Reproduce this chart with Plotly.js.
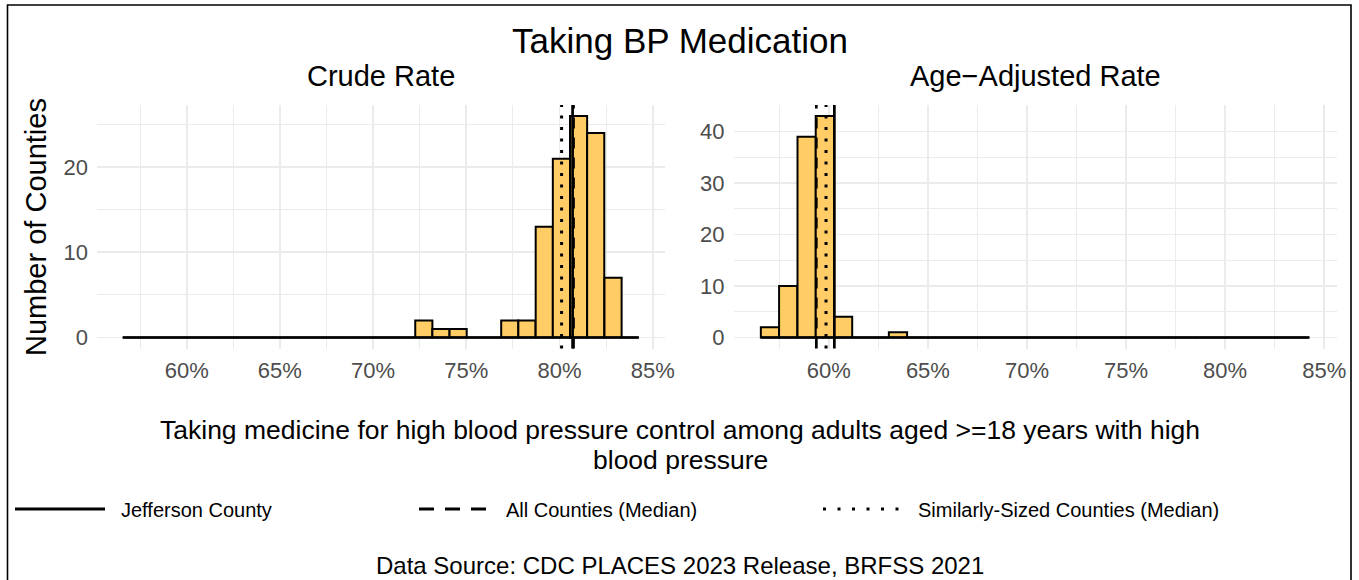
<!DOCTYPE html>
<html>
<head>
<meta charset="utf-8">
<script src="https://cdn.plot.ly/plotly-3.0.1.min.js"></script>
<style>html,body{margin:0;padding:0;background:#fff;}#chart{width:1359px;height:580px;}</style>
</head>
<body>
<div id="chart"></div>
<script>
// ---- data ----
const binCenters = [57.03, 57.95, 58.88, 59.80, 60.72, 61.65, 62.57, 63.49, 64.41, 65.34,
                    66.26, 67.18, 68.10, 69.03, 69.95, 70.87, 71.79, 72.72, 73.64, 74.56,
                    75.49, 76.41, 77.33, 78.25, 79.18, 80.10, 81.02, 81.94, 82.87, 83.79];
const crudeCounts = [0,0,0,0,0,0,0,0,0,0, 0,0,0,0,0,0,0,2,1,1, 0,0,2,2,13,21,26,24,7,0];
const ageAdjCounts = [2,10,39,43,4,0,0,1,0,0, 0,0,0,0,0,0,0,0,0,0, 0,0,0,0,0,0,0,0,0,0];
// reference lines: [Jefferson County, All Counties (Median), Similarly-Sized Counties (Median)]
const crudeRefs = [80.70, 80.75, 80.11];
const ageAdjRefs = [60.28, 59.37, 59.86];
const refLabels = ["Jefferson County", "All Counties (Median)", "Similarly-Sized Counties (Median)"];
const panelTitles = ["Crude Rate", "Age\u2212Adjusted Rate"];
const mainTitle = "Taking BP Medication";
const xTitleLines = ["Taking medicine for high blood pressure control among adults aged >=18 years with high",
                     "blood pressure"];
const yTitle = "Number of Counties";
const sourceText = "Data Source: CDC PLACES 2023 Release, BRFSS 2021";

// ---- layout helpers ----
const W = 1359, H = 580;
const px = v => v / W;
const py = v => 1 - v / H;
const FONT = "Liberation Sans, Arial, sans-serif";
const FILL = "#FFCC66";
const GRID = "#EBEBEB";
const half = (binCenters[1] - binCenters[0]) / 2;
const xLo = binCenters[0] - half, xHi = binCenters[binCenters.length - 1] + half;

function barTrace(counts, xa, ya) {
  return {type: "bar", x: binCenters, y: counts, xaxis: xa, yaxis: ya,
    marker: {color: FILL, line: {color: "black", width: 2}}, hoverinfo: "x+y"};
}
function baseTrace(xa, ya) {
  return {type: "scatter", mode: "lines", x: [xLo, xHi], y: [0, 0], xaxis: xa, yaxis: ya,
    line: {color: "black", width: 2.4}, hoverinfo: "skip"};
}
const traces = [
  barTrace(crudeCounts, "x", "y"), barTrace(ageAdjCounts, "x2", "y2"),
  baseTrace("x", "y"), baseTrace("x2", "y2")
];

const dashes = ["solid", "11px,9px", "3px,8.5px"];
const shapes = [];
function addRefs(refs, xr) {
  refs.forEach((v, i) => shapes.push({type: "line", xref: xr, yref: xr.replace("x", "y") + " domain",
    x0: v, x1: v, y0: 0, y1: 1, layer: "above",
    line: {color: "black", width: i === 2 ? 3 : 2.7, dash: dashes[i]}}));
}
addRefs(crudeRefs, "x");
addRefs(ageAdjRefs, "x2");

// frame
shapes.push({type: "rect", xref: "paper", yref: "paper", x0: px(7.5), x1: px(1351), y0: -0.05, y1: py(5),
  line: {color: "black", width: 1.6}, fillcolor: "rgba(0,0,0,0)", layer: "below"});

// legend keys (manual, to match wide keys)
const legKeys = [[15, 105], [419, 495], [823, 902]];
const legDash = ["solid", "15px,11px", "3px,11.5px"];
legKeys.forEach((k, i) => shapes.push({type: "line", xref: "paper", yref: "paper",
  x0: px(k[0]), x1: px(k[1]), y0: py(509), y1: py(509),
  line: {color: "black", width: 3, dash: legDash[i]}}));
const legTextX = [119, 504, 916];

const annotations = [
  {text: mainTitle, x: px(680), y: py(41), font: {size: 35, color: "black", family: FONT}},
  {text: panelTitles[0], x: px(380.75), y: py(76), font: {size: 29, color: "black", family: FONT}},
  {text: panelTitles[1], x: px(1035), y: py(76), font: {size: 29, color: "black", family: FONT}},
  {text: yTitle, x: px(36), y: py(227), textangle: -90, font: {size: 29, color: "black", family: FONT}},
  {text: xTitleLines[0], x: px(680), y: py(430), font: {size: 26.5, color: "black", family: FONT}},
  {text: xTitleLines[1], x: px(680), y: py(460), font: {size: 26.5, color: "black", family: FONT}},
  {text: sourceText, x: px(680), y: py(565), font: {size: 24, color: "black", family: FONT}}
];
legTextX.forEach((x, i) => annotations.push({text: refLabels[i], x: px(x), y: py(510), xanchor: "left",
  font: {size: 20, color: "black", family: FONT}}));
annotations.forEach(a => {
  a.xref = "paper"; a.yref = "paper"; a.showarrow = false;
  if (!a.xanchor) a.xanchor = "center";
  a.yanchor = "middle";
});

function xAxis(d0, d1, anchor) {
  return {domain: [px(d0), px(d1)], range: [55.19, 85.63], anchor: anchor,
    tick0: 0, dtick: 5, ticksuffix: "%", showgrid: true, gridcolor: GRID, gridwidth: 1.7,
    minor: {dtick: 2.5, tick0: 0, showgrid: true, gridcolor: GRID, gridwidth: 1},
    zeroline: false, showline: false, ticks: "", ticklabelstandoff: 6,
    tickfont: {family: FONT, size: 22, color: "#4D4D4D"}, fixedrange: true};
}
function yAxis(r, anchor) {
  return {domain: [py(348.5), py(105)], range: r, anchor: anchor,
    tick0: 0, dtick: 10, showgrid: true, gridcolor: GRID, gridwidth: 1.7,
    minor: {dtick: 5, tick0: 0, showgrid: true, gridcolor: GRID, gridwidth: 1},
    zeroline: false, showline: false, ticks: "", ticklabelstandoff: 8,
    tickfont: {family: FONT, size: 22, color: "#4D4D4D"}, fixedrange: true};
}

const layout = {
  width: W, height: H, margin: {l: 0, r: 0, t: 0, b: 0},
  paper_bgcolor: "white", plot_bgcolor: "white", showlegend: false,
  bargap: 0, font: {family: FONT},
  xaxis: xAxis(97, 664.5, "y"), yaxis: yAxis([-1.3, 27.3], "x"),
  xaxis2: xAxis(733.5, 1336.7, "y2"), yaxis2: yAxis([-2.15, 45.15], "x2"),
  shapes: shapes, annotations: annotations
};

Plotly.newPlot("chart", traces, layout, {displayModeBar: false, staticPlot: true});
</script>
</body>
</html>
